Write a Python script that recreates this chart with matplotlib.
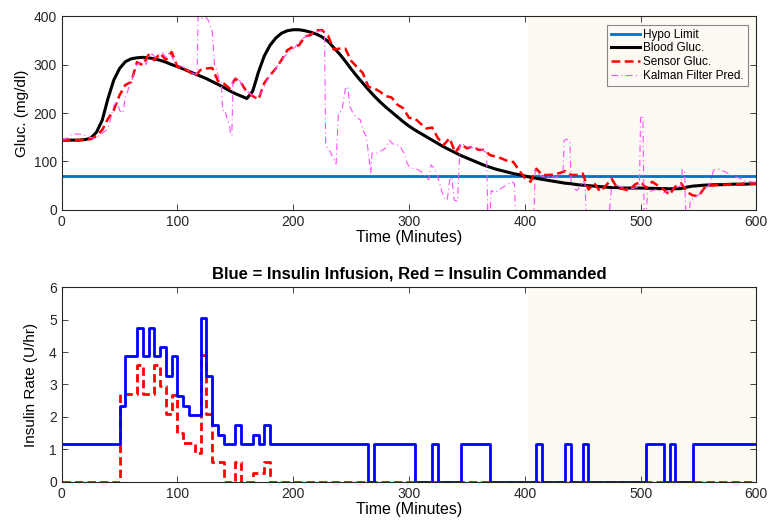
import numpy as np
import matplotlib.pyplot as plt

plt.rcParams['font.family'] = ['Liberation Sans', 'DejaVu Sans']

# time grid for the glucose traces (5 minute samples)
t5 = np.arange(0, 601, 5)

blood_gluc = [144, 144, 144, 144, 145, 148, 160, 185, 230, 268, 292, 306, 312, 314, 315, 314,
              312, 309, 305, 300, 296, 291, 286, 281, 276, 271, 265, 259, 253, 246, 240, 235,
              230, 245, 285, 318, 340, 355, 365, 370, 372, 372, 370, 367, 363, 357, 348, 335,
              322, 307, 291, 276, 262, 248, 235, 223, 212, 202, 192, 182, 173, 165, 158, 151,
              144, 137, 130, 124, 118, 112, 107, 102, 97, 92, 88, 84, 81, 78, 75, 72.5,
              70, 67, 65, 63, 61, 59, 57, 55, 54, 52, 51, 50, 49, 48, 47, 46,
              46, 45, 45, 45, 45, 44.5, 44.5, 44, 44, 43.5, 43.5, 44, 47, 49, 50, 51,
              51.5, 52, 52, 52.5, 53, 53, 53, 53.5, 54]

sensor_gluc = [144, 144, 144, 144, 145, 146, 152, 165, 188, 206, 237, 258, 264, 305, 299, 320,
               309, 323, 310, 326, 295, 292, 286, 276, 289, 292, 293, 266, 261, 251, 271, 262,
               243, 235, 228, 262, 278, 292, 310, 330, 337, 340, 358, 361, 371, 371, 360, 331,
               333, 333, 308, 295, 283, 254, 251, 244, 235, 232, 217, 210, 190, 189, 178, 168,
               170, 148, 134, 148, 118, 136, 127, 131, 124, 124, 113, 110, 106, 101, 99, 82,
               66, 58, 85, 72, 72, 73, 76, 80, 72, 72, 75, 42, 55, 38, 50, 64,
               45, 43, 40, 52, 58, 45, 58, 50, 42, 31, 48, 55, 37, 30, 28, 45,
               50, 51, 52, 52, 53, 53, 54, 54, 54]

# Kalman filter prediction (irregular time stamps, minutes)
kf_t = [0, 4, 8, 14, 20, 24, 28, 32, 36, 40, 43, 45, 48, 50, 53, 55, 57, 59, 61, 63,
        65, 68, 70, 73, 75, 78, 81, 84, 87, 90, 93, 96, 99, 103, 107, 111, 115, 117, 118, 120,
        121, 125, 127, 130, 132, 134, 136, 138, 139, 141, 143, 145, 146, 147, 148, 151, 154, 157, 160, 163,
        166, 169, 172, 175, 178, 181, 184, 187, 190, 193, 196, 199, 203, 207, 211, 215, 219, 223, 227, 228,
        230, 232, 235, 237, 239, 242, 245, 247, 249, 252, 255, 258, 260, 263, 265, 267, 268, 272, 276, 280,
        283, 286, 290, 293, 296, 298, 300, 303, 306, 310, 314, 317, 319, 321, 324, 327, 330, 333, 335, 337,
        339, 342, 344, 347, 350, 353, 356, 360, 363, 367, 368, 370, 371, 374, 378, 382, 385, 388, 391, 392,
        408, 409, 411, 414, 418, 422, 426, 430, 433, 434, 437, 439, 440, 442, 445, 448, 450, 452, 453, 473,
        475, 480, 485, 490, 495, 499, 500, 502, 503, 505, 506, 510, 515, 520, 525, 530, 535, 536, 538, 539,
        542, 543, 546, 550, 553, 557, 560, 563, 566, 570, 575, 580, 585, 590, 595, 600]
kf_g = [145, 147, 155, 157, 154, 150, 148, 152, 160, 168, 195, 215, 225, 205, 200, 235, 245, 262, 270, 290,
        300, 305, 312, 300, 318, 322, 315, 322, 325, 315, 325, 312, 300, 297, 292, 285, 280, 282, 430, 430,
        395, 397, 390, 370, 300, 290, 268, 262, 205, 206, 186, 175, 155, 155, 268, 272, 266, 250, 245, 240,
        232, 235, 240, 255, 270, 280, 288, 300, 310, 318, 325, 330, 340, 352, 358, 362, 366, 370, 370, 137,
        125, 120, 105, 95, 199, 205, 250, 255, 213, 198, 190, 186, 165, 152, 117, 76, 117, 117, 122, 128,
        144, 136, 134, 128, 115, 98, 90, 86, 85, 80, 70, 62, 93, 88, 76, 50, 25, 20, 60, 68,
        20, 18, 137, 135, 130, 130, 128, 126, 124, 118, -5, -5, 40, 35, 42, 48, 52, 58, 55, -5,
        -5, 86, 75, 70, 68, 70, 66, 72, 75, 144, 146, 140, 55, 45, 40, 48, 60, 55, -5, -5,
        48, 50, 46, 44, 45, 48, 190, 195, -5, -5, 35, 40, 42, 35, 40, 45, 50, 83, 80, -5,
        -5, 20, 25, 30, 40, 45, 55, 82, 85, 82, 76, 70, 66, 60, 58, 57]

hypo_limit = 70
shade_start = 403

# insulin step changes (U/hr), value holds until the next change
inf_t = [0, 50, 55, 65, 70, 75, 80, 85, 90, 95, 100, 105, 110, 120, 125, 130, 135, 140, 150, 155,
         165, 170, 175, 180, 265, 270, 305, 320, 325, 345, 370, 410, 415, 435, 440, 450, 455, 505,
         520, 525, 530, 545, 600]
inf_u = [1.15, 2.35, 3.87, 4.75, 3.87, 4.75, 3.87, 4.15, 3.27, 3.87, 2.65, 2.35, 2.05, 5.05, 3.27,
         1.75, 1.45, 1.15, 1.75, 1.15, 1.45, 1.15, 1.75, 1.15, 0, 1.15, 0, 1.15, 0, 1.15, 0, 1.15,
         0, 1.15, 0, 1.15, 0, 1.15, 0, 1.15, 0, 1.15, 1.15]
cmd_t = [0, 50, 65, 70, 80, 85, 90, 95, 100, 105, 115, 120, 125, 130, 140, 150, 155, 165, 175, 180, 600]
cmd_u = [0, 2.7, 3.6, 2.7, 3.6, 2.95, 2.08, 2.68, 1.5, 1.2, 0.9, 3.9, 2.08, 0.6, 0, 0.6, 0, 0.28, 0.6, 0, 0]

shade = '#fdf9f3'
axcol = '#262626'

fig = plt.figure(figsize=(7.71, 5.22), dpi=100)
ax1 = fig.add_axes([0.080, 0.598, 0.901, 0.371])
ax2 = fig.add_axes([0.080, 0.077, 0.901, 0.373])

for ax in (ax1, ax2):
    ax.axvspan(shade_start, 600, color=shade, lw=0, zorder=0)
    ax.set_xlim(0, 600)
    ax.set_xticks(range(0, 601, 100))
    ax.tick_params(direction='in', top=True, right=True, labelsize=10, colors=axcol,
                   length=4, width=0.6)
    for s in ax.spines.values():
        s.set_color(axcol)
        s.set_linewidth(0.8)
    ax.set_xlabel('Time (Minutes)', fontsize=11.5, labelpad=1)

ax1.axhline(hypo_limit, color='#0072bd', lw=2, label='Hypo Limit')
ax1.plot(t5, blood_gluc, color='k', lw=2.2, label='Blood Gluc.')
ax1.plot(t5, sensor_gluc, color='r', lw=1.8, ls=(0, (3.5, 1.8)), label='Sensor Gluc.')
ax1.plot(kf_t, kf_g, color='#ff4dff', lw=0.8, ls=(0, (6, 3, 1, 3)), label='Kalman Filter Pred.')
ax1.set_ylim(0, 400)
ax1.set_yticks(range(0, 401, 100))
ax1.set_ylabel('Gluc. (mg/dl)', fontsize=11, labelpad=3)
leg = ax1.legend(loc='upper right', bbox_to_anchor=(0.988, 0.957), borderaxespad=0,
                 fontsize=8.5, labelspacing=0.15, handlelength=2.4, handletextpad=0.3,
                 borderpad=0.35, fancybox=False, framealpha=1, facecolor=shade,
                 edgecolor='#888888')
leg.get_frame().set_linewidth(0.8)

ax2.step(cmd_t, cmd_u, where='post', color='r', lw=2, ls=(0, (3, 1.5)))
ax2.step(inf_t, inf_u, where='post', color='b', lw=2)
ax2.set_ylim(0, 6)
ax2.set_yticks(range(0, 7))
ax2.set_ylabel('Insulin Rate (U/hr)', fontsize=11, labelpad=8)
ax2.set_title('Blue = Insulin Infusion, Red = Insulin Commanded', fontsize=12,
              fontweight='bold', pad=6)

fig.savefig('out.png', dpi=100)
